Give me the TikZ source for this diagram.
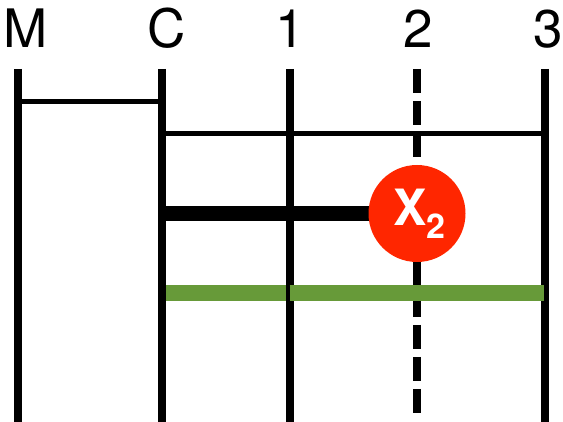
\documentclass[tikz,border=0pt]{standalone}
\usepackage{fontspec}
\setmainfont{TeX Gyre Heros}
\usepackage{tikz}
\usetikzlibrary{positioning}
\definecolor{markred}{RGB}{255,38,0}
\definecolor{rungreen}{RGB}{103,154,57}

\begin{document}
\begin{tikzpicture}[x=1pt,y=-1pt,
        lane/.style={line width=8pt},
        link/.style={line width=5pt},
        rung/.style={line width=16pt, rungreen},
        lbl/.style={anchor=base, inner sep=0pt, font=\fontsize{53}{60}\selectfont}]
    \useasboundingbox (0,0) rectangle (563,422);

    % columns: label, top and foot of each line
    \foreach \n/\x/\lx in {M/17.5/26, C/161.5/167, 1/289.5/290, 2/417/418, 3/545/548} {
        \node [lbl] (l\n) at (\lx,48) {\n};
        \coordinate (t\n) at (\x,69);
        \coordinate (b\n) at (\x,422);
    }
    \coordinate (b2) at (417,413);

    % heights of the rows
    \coordinate (r1) at (0,101.5);
    \coordinate (r2) at (0,133.5);
    \coordinate (mark) at (417,213.5);
    \coordinate (r4) at (0,293.5);

    \draw [rung] (tC |- r4) -- (t1 |- r4);

    \draw [lane] (tM) -- (bM);
    \draw [lane] (tC) -- (bC);
    \draw [lane] (t1) -- (b1);
    \draw [lane, dash pattern=on 24pt off 8pt] (t2) -- (b2);
    \draw [lane] (t3) -- (b3);

    \draw [link] (tM |- r1) -- (tC |- r1);
    \draw [link] (tC |- r2) -- (t3 |- r2);
    \draw [line width=15pt] (tC |- mark) -- (mark);
    \draw [rung] (t1 |- r4) -- ([xshift=-1pt]t3 |- r4);

    \node [circle, fill=markred, minimum size=97pt, inner sep=0pt, text=white,
        font=\bfseries\fontsize{50}{52}\selectfont] (x2) at (mark)
        {\hspace{5pt}X\raisebox{-13pt}{\fontsize{34}{34}\selectfont 2}};
\end{tikzpicture}
\end{document}
